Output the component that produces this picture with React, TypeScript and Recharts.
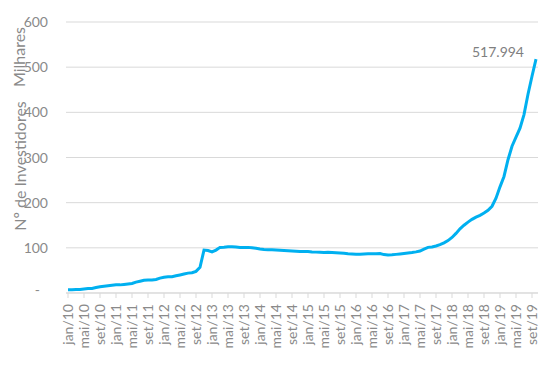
import React from 'react'
import { CartesianGrid, Line, LineChart, XAxis, YAxis } from 'recharts'

// meses jan/10 .. out/19
const monthNames = ['jan', 'fev', 'mar', 'abr', 'mai', 'jun', 'jul', 'ago', 'set', 'out', 'nov', 'dez']
const years = [10, 11, 12, 13, 14, 15, 16, 17, 18, 19]

// investidores (milhares), um valor por mês
const investors2010 = [7, 7, 8, 8, 9, 10, 10, 12, 14, 15, 16, 17]
const investors2011 = [18, 18, 19, 20, 21, 24, 26, 28, 29, 29, 30, 33]
const investors2012 = [35, 36, 36, 38, 40, 42, 44, 45, 48, 57, 95, 94]
const investors2013 = [91, 95, 101, 101.5, 102.5, 102.5, 102, 101, 100.5, 101, 100, 99]
const investors2014 = [97.5, 96.5, 96, 95.5, 95, 94.5, 94, 93.5, 93, 92.5, 92, 92]
const investors2015 = [92, 91, 90.5, 90, 89.5, 90, 89.5, 89, 88.5, 88, 87, 86.5]
const investors2016 = [86, 86, 86.5, 87, 87, 87, 87.5, 85, 84, 84.5, 85.5, 86.5]
const investors2017 = [87.5, 88.5, 89.5, 91, 93, 97, 101, 102, 104, 107, 111, 116]
const investors2018 = [123, 132, 142, 150, 157, 163, 168, 172, 177, 183, 192, 210]
const investors2019 = [235, 258, 295, 325, 345, 365, 395, 440, 480, 517.994]

const yTicks = [0, 100, 200, 300, 400, 500, 600]

const values = [
  ...investors2010,
  ...investors2011,
  ...investors2012,
  ...investors2013,
  ...investors2014,
  ...investors2015,
  ...investors2016,
  ...investors2017,
  ...investors2018,
  ...investors2019,
]

const data = values.map((v, i) => ({
  month: `${monthNames[i % 12]}/${years[Math.floor(i / 12)]}`,
  value: v,
}))

const FONT = 'Lato, "Open Sans", sans-serif'
const GRAY = '#8a8a8a'

const XTick = (props: any) => {
  const { x, y, payload } = props
  return (
    <text
      x={x + 5}
      y={y + 4}
      transform={`rotate(-90, ${x + 5}, ${y + 4})`}
      textAnchor='end'
      fontSize={14}
      fontFamily={FONT}
      fill={GRAY}
    >
      {payload.value}
    </text>
  )
}

const YTick = (props: any) => {
  const { y, payload } = props
  const zero = payload.value === 0
  return (
    <text
      x={zero ? 40 : 48}
      y={y}
      dy={zero ? 2 : 5}
      textAnchor='end'
      fontSize={14}
      fontFamily={FONT}
      fill={GRAY}
    >
      {zero ? '-' : payload.value}
    </text>
  )
}

const lastIndex = values.length - 1

const EndLabel = (props: any) => {
  const { x, y, index } = props
  if (index !== lastIndex) return null
  return (
    <text x={x - 12} y={y - 2} textAnchor='end' fontSize={14} fontFamily={FONT} fill='#7f7f7f'>
      {values[lastIndex].toFixed(3)}
    </text>
  )
}

const titleStyle: React.CSSProperties = {
  position: 'absolute',
  transform: 'translate(-50%, -50%) rotate(-90deg)',
  whiteSpace: 'nowrap',
  fontFamily: FONT,
  fontSize: 16,
  color: GRAY,
}

export default function App() {
  return (
    <div style={{ position: 'absolute', left: 0, top: 0, width: 560, height: 371, background: '#fff' }}>
      <LineChart width={560} height={371} data={data} margin={{ top: 22, right: 22, bottom: 18, left: 0 }}>
        <CartesianGrid vertical={false} stroke='#d9d9d9' />
        <XAxis
          dataKey='month'
          interval={3}
          height={60}
          padding={{ left: 2, right: 2 }}
          stroke='#d9d9d9'
          tickSize={5}
          tick={<XTick />}
        />
        <YAxis
          width={66}
          domain={[0, 600]}
          ticks={yTicks}
          axisLine={false}
          tickLine={false}
          tick={<YTick />}
        />
        <Line
          type='linear'
          dataKey='value'
          stroke='#00b0f0'
          strokeWidth={3}
          dot={false}
          isAnimationActive={false}
          label={<EndLabel />}
        />
      </LineChart>
      <div style={{ ...titleStyle, left: 18, top: 57 }}>Milhares</div>
      <div style={{ ...titleStyle, left: 19, top: 166 }}>Nº de Investidores</div>
    </div>
  )
}
